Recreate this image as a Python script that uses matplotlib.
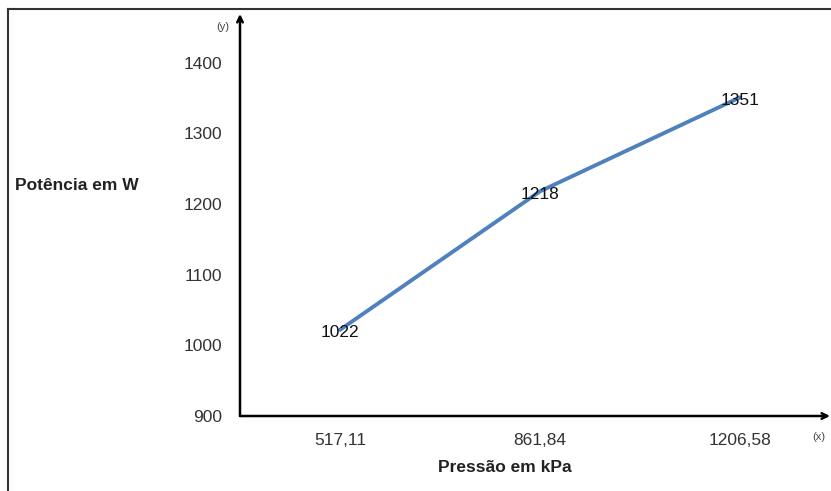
import matplotlib.pyplot as plt
from matplotlib.lines import Line2D

# --- Data ---
pressao = ["517,11", "861,84", "1206,58"]
potencia = [1022, 1218, 1351]
y_ticks = [900, 1000, 1100, 1200, 1300, 1400]

plt.rcParams['font.family'] = ['Liberation Sans', 'DejaVu Sans']

fig = plt.figure(figsize=(8.31, 4.91), dpi=100)
ax = fig.add_axes([240/831, 75/491, 590/831, 402/491])

x = list(range(len(pressao)))
ax.plot(x, potencia, color='#4f81bd', lw=2.8, solid_capstyle='round')
for xi, v in zip(x, potencia):
    ax.text(xi, v - 4, str(v), ha='center', va='center', fontsize=12.5, color='#111111')

ax.set_xlim(-0.5, 2.45)
ax.set_ylim(900, 1469)
ax.set_xticks(x)
ax.set_xticklabels(pressao)
ax.set_yticks(y_ticks)
ax.tick_params(length=0, labelsize=12.5, labelcolor='#333333')
ax.tick_params(axis='y', pad=13)
ax.tick_params(axis='x', pad=12)

for s in ax.spines.values():
    s.set_visible(False)

# axes with arrows
ax.annotate('', xy=(0, 1.0), xytext=(0, 0), xycoords='axes fraction',
            arrowprops=dict(arrowstyle='->', color='black', lw=1.8, shrinkA=0, shrinkB=0))
ax.annotate('', xy=(1.0, 0), xytext=(0, 0), xycoords='axes fraction',
            arrowprops=dict(arrowstyle='->', color='black', lw=1.8, shrinkA=0, shrinkB=0))

fig.text(223/831, 1 - 27/491, '(y)', ha='center', va='center', fontsize=8, color='#444444')
fig.text(819/831, 1 - 437/491, '(x)', ha='center', va='center', fontsize=8, color='#444444')

fig.text(15/831, 1 - 185/491, 'Potência em W', ha='left', va='center',
         fontsize=12.5, fontweight='bold', color='#222222')
fig.text(505/831, 1 - 468/491, 'Pressão em kPa', ha='center', va='center',
         fontsize=12.5, fontweight='bold', color='#222222')

# outer frame (left and top)
fig.add_artist(Line2D([8/831, 8/831], [0, 1 - 9/491], color='#333333', lw=1.5, transform=fig.transFigure))
fig.add_artist(Line2D([8/831, 1], [1 - 9/491, 1 - 9/491], color='#333333', lw=1.5, transform=fig.transFigure))

fig.savefig('out.png', dpi=100)
